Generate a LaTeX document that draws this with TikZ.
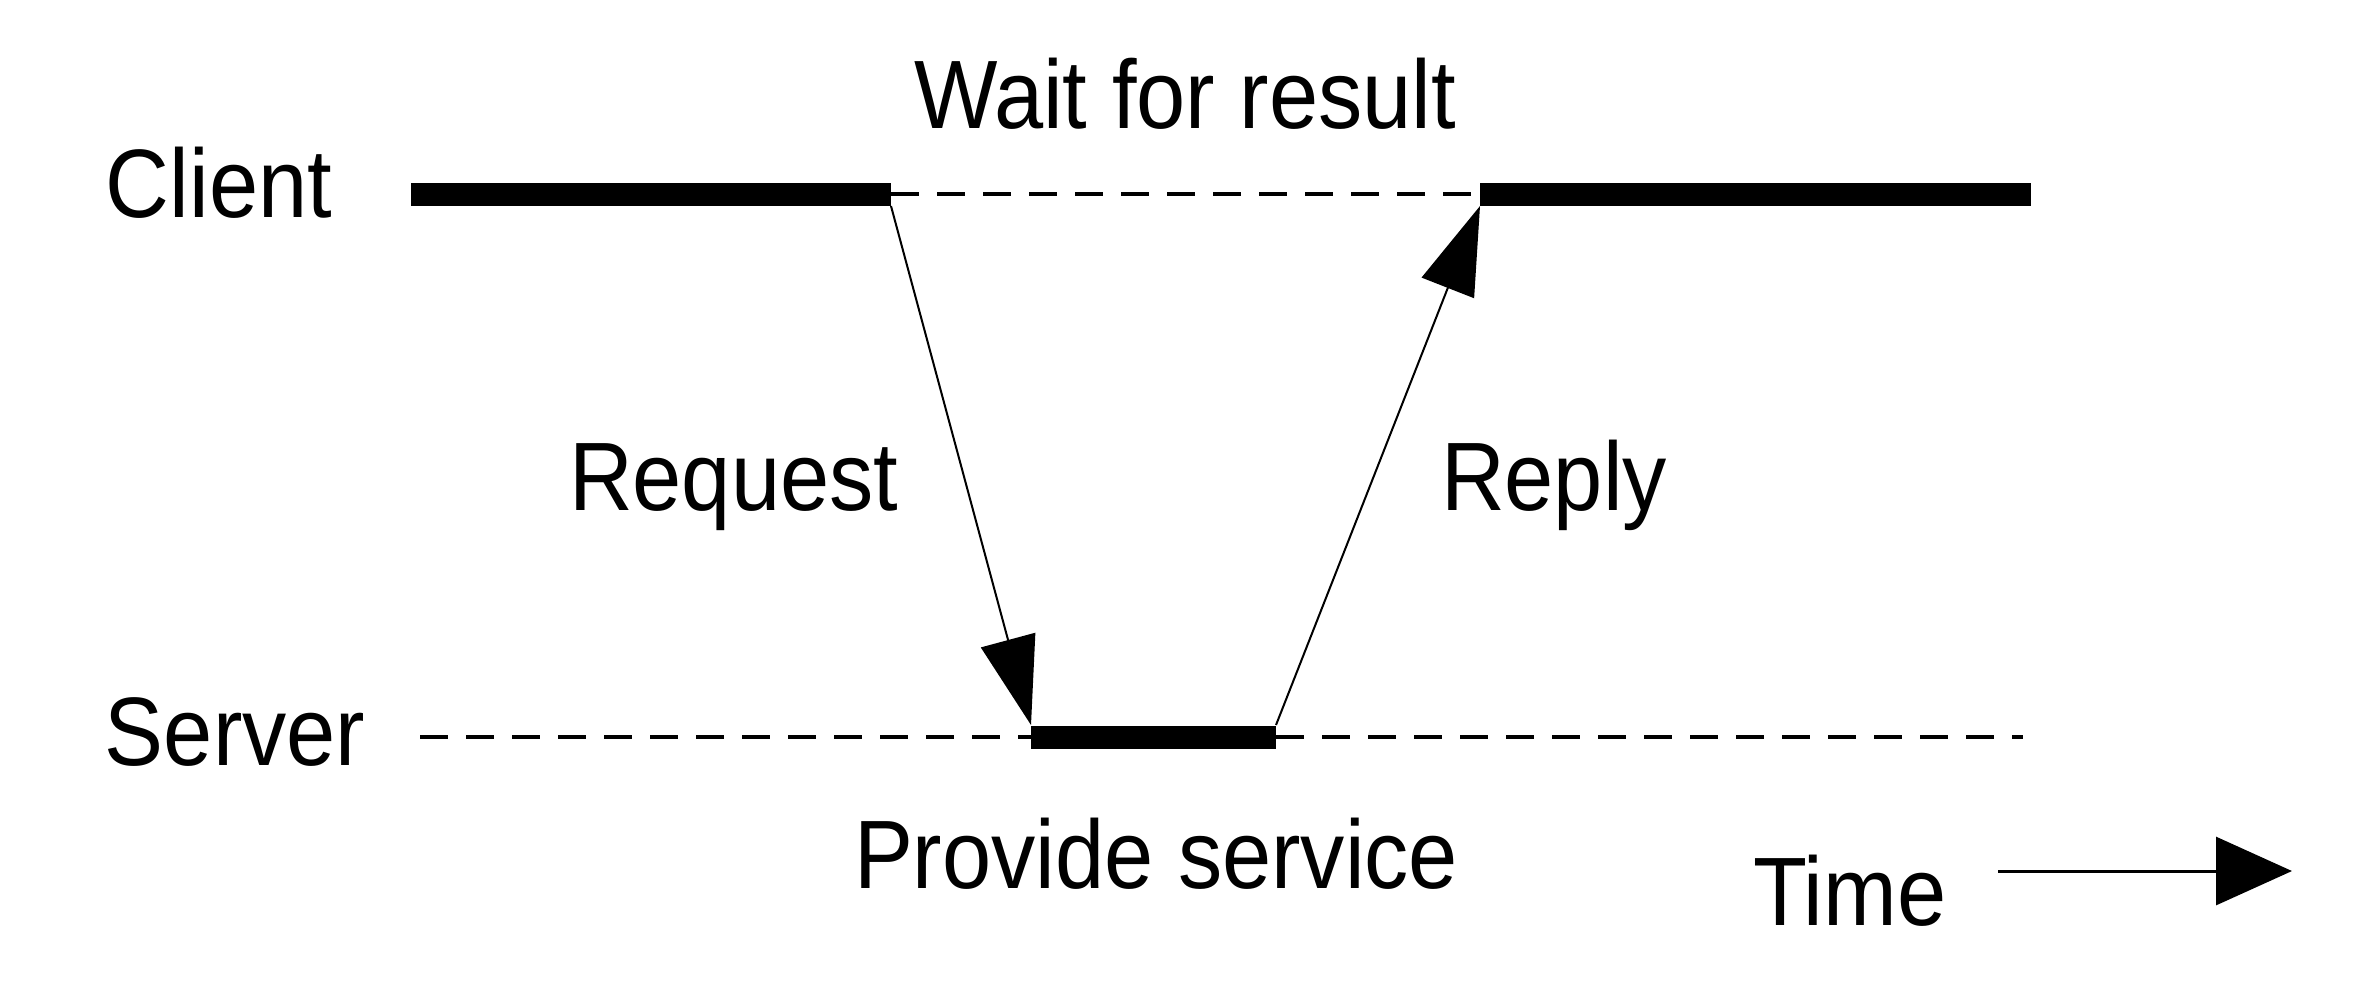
\documentclass[tikz,border=0pt]{standalone}
\usepackage{fontspec}
\setmainfont{Liberation Sans}
\usetikzlibrary{arrows.meta}
\begin{document}
\begin{tikzpicture}[x=0.25pt,y=-0.25pt,
  lbl/.style={inner sep=0pt,outer sep=0pt,anchor=base west,font=\fontsize{22.1}{26}\selectfont},
  busy/.style={line width=5.75pt},
  idle/.style={line width=0.85pt,dash pattern=on 7pt off 4.5pt},
  msg/.style={line width=0.5pt,-{Triangle[length=22pt,width=14pt]}},
  timearrow/.style={line width=0.75pt,-{Triangle[length=19pt,width=17pt]}}]
\useasboundingbox (0,0) rectangle (2368,1000);
% coordinates
\coordinate (c0) at (411,194);
\coordinate (c1) at (891,194);
\coordinate (c2) at (1480,194);
\coordinate (c3) at (2031,194);
\coordinate (s0) at (420,737);
\coordinate (s1) at (1031,737);
\coordinate (s2) at (1276,737);
\coordinate (s3) at (2023,737);
\coordinate (reqs) at (891,206);
\coordinate (reqe) at (1031,725);
\coordinate (reps) at (1276,725);
\coordinate (repe) at (1480,206);
\coordinate (t0) at (1998,871);
\coordinate (t1) at (2292,871);
% labels
\node[lbl] (client) at (106,217) {\scalebox{1}[1.1]{Client}};
\node[lbl] (server) at (105,765) {\scalebox{1}[1.1]{Server}};
\node[lbl] (wait) at (914,128) {\scalebox{1}[1.1]{Wait for result}};
\node[lbl] (request) at (569,510) {\scalebox{1}[1.1]{Request}};
\node[lbl] (reply) at (1441,510) {\scalebox{1}[1.1]{Reply}};
\node[lbl] (provide) at (854,888) {\scalebox{1}[1.1]{Provide service}};
\node[lbl] (time) at (1753,925) {\scalebox{1}[1.1]{Time}};
% timelines
\draw[busy] (c0) -- (c1);
\draw[idle] (c1) -- (c2);
\draw[busy] (c2) -- (c3);
\draw[idle] (s0) -- (s1);
\draw[busy] (s1) -- (s2);
\draw[idle] (s2) -- (s3);
% messages
\draw[msg] (reqs) -- (reqe);
\draw[msg] (reps) -- (repe);
\draw[timearrow] (t0) -- (t1);
\end{tikzpicture}
\end{document}
